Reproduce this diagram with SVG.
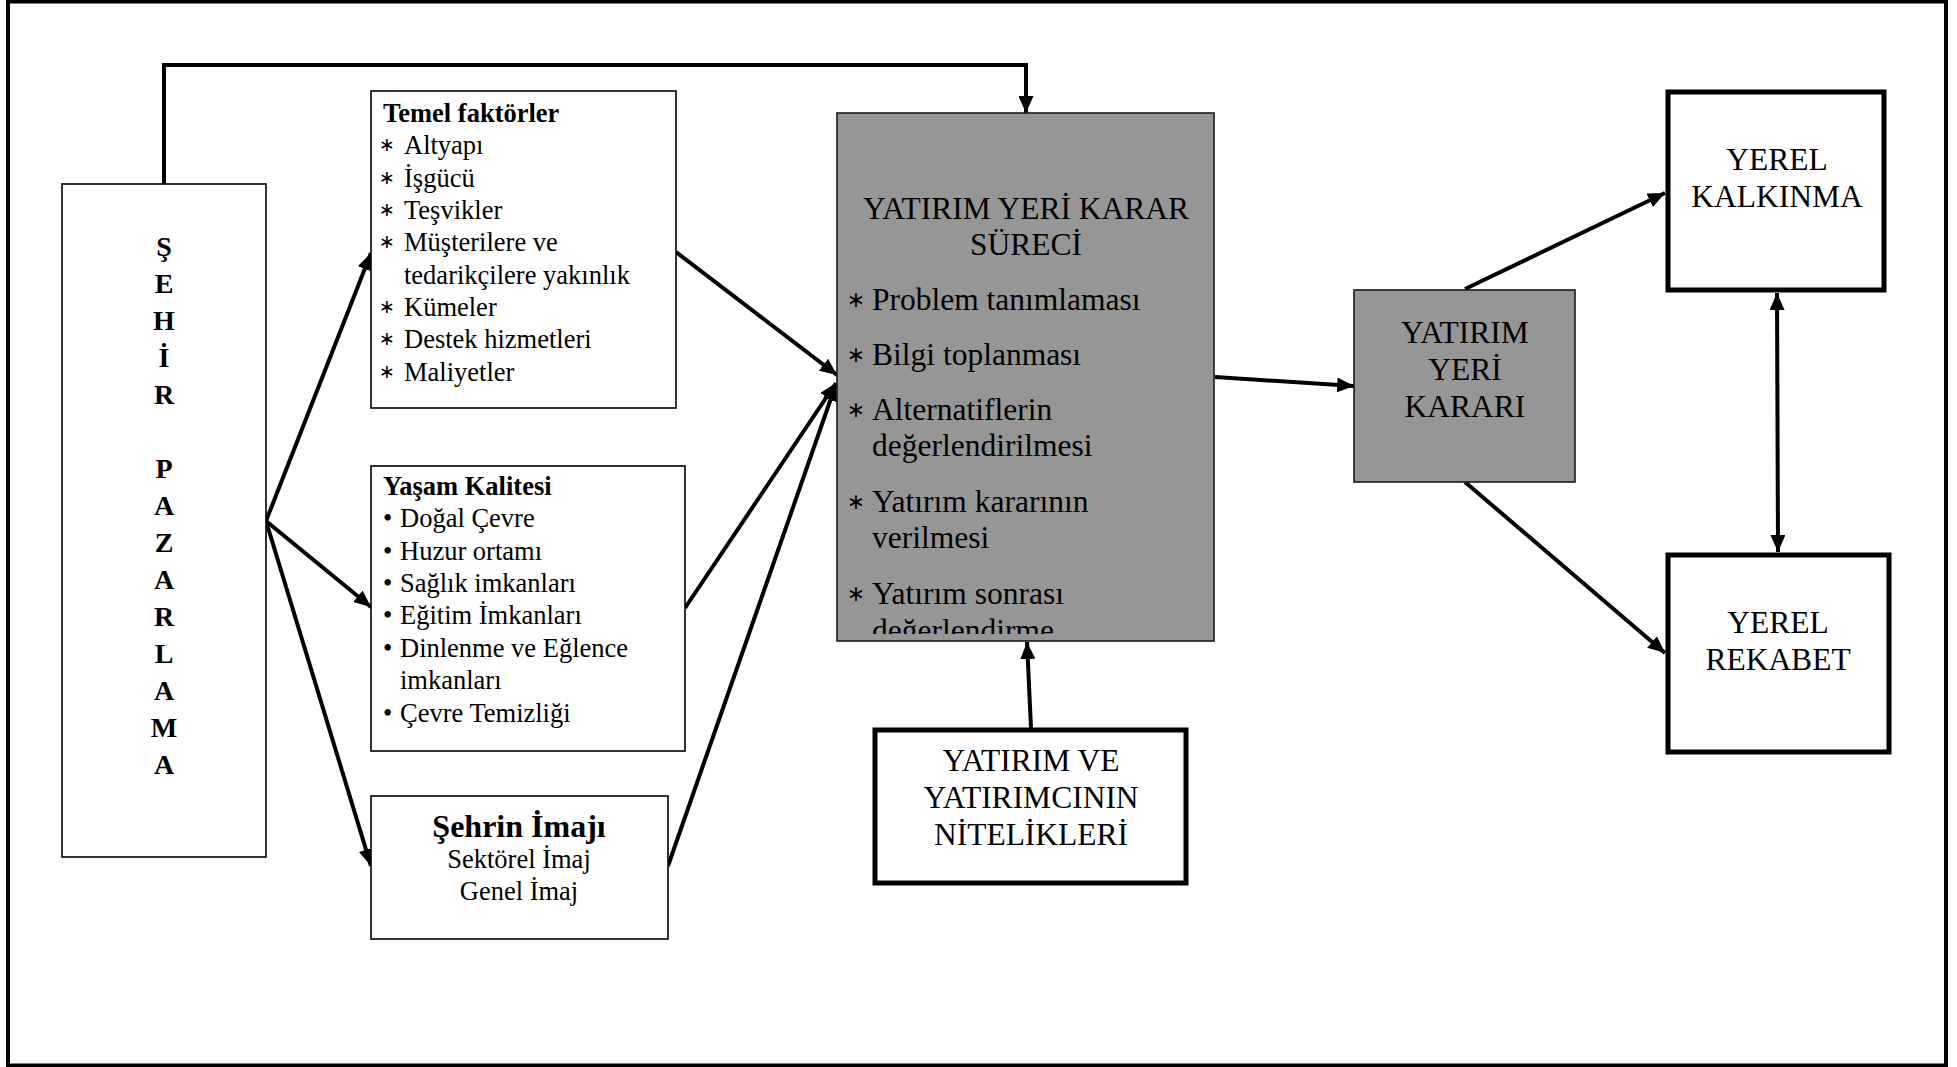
<svg xmlns="http://www.w3.org/2000/svg" width="1957" height="1067" viewBox="0 0 1957 1067">
  <style>
    text { font-family: "Liberation Serif", "Times New Roman", serif; fill: #000; }
    .box { fill: #fff; stroke: #000; stroke-width: 1.6; }
    .gray { fill: #969696; stroke: #1a1a1a; stroke-width: 1.6; }
    .thick { fill: #fff; stroke: #000; stroke-width: 5; }
    .conn { fill: none; stroke: #000; stroke-width: 4; }
    .vert { font-size: 28px; font-weight: bold; text-anchor: middle; }
    .item { font-size: 26.5px; }
    .head { font-size: 26.5px; font-weight: bold; }
    .big { font-size: 31.5px; }
    .mid { text-anchor: middle; }
    text.ast { font-family: "DejaVu Sans", sans-serif; font-size: 19px; text-anchor: middle; transform: translateY(-3px); }
    text.ast2 { font-family: "DejaVu Sans", sans-serif; font-size: 22px; text-anchor: middle; transform: translateY(-3px); }
  </style>
  <defs>
    <marker id="ah" markerUnits="userSpaceOnUse" viewBox="0 0 17 15" markerWidth="17" markerHeight="15" refX="17" refY="7.5" orient="auto-start-reverse">
      <path d="M0,0 L17,7.5 L0,15 z" fill="#000"/>
    </marker>
    <clipPath id="procClip">
      <rect x="837" y="113" width="377" height="521"/>
    </clipPath>
  </defs>

  <!-- outer frame -->
  <rect x="8" y="1.5" width="1938" height="1064" fill="#fff" stroke="#000" stroke-width="4"/>

  <!-- connectors -->
  <g id="connectors" class="conn">
    <polyline points="164,184 164,65 1026,65 1026,113" marker-end="url(#ah)"/>
    <line x1="266" y1="521" x2="371" y2="253" marker-end="url(#ah)"/>
    <line x1="266" y1="521" x2="371" y2="607" marker-end="url(#ah)"/>
    <line x1="266" y1="521" x2="371" y2="866" marker-end="url(#ah)"/>
    <line x1="676" y1="252" x2="837" y2="375" marker-end="url(#ah)"/>
    <line x1="685" y1="608" x2="836" y2="383" marker-end="url(#ah)"/>
    <line x1="668" y1="866" x2="836" y2="384" marker-end="url(#ah)"/>
    <line x1="1031" y1="728" x2="1027" y2="642" marker-end="url(#ah)"/>
    <line x1="1215" y1="377" x2="1354" y2="386" marker-end="url(#ah)"/>
    <line x1="1465" y1="289" x2="1665" y2="193" marker-end="url(#ah)"/>
    <line x1="1465" y1="482" x2="1665" y2="653" marker-end="url(#ah)"/>
    <line x1="1777" y1="293" x2="1778" y2="552" marker-start="url(#ah)" marker-end="url(#ah)"/>
  </g>

  <!-- city marketing column -->
  <g id="sehir-pazarlama">
    <rect class="box" x="62" y="184" width="204" height="673"/>
    <text class="vert" x="164" y="256">Ş</text>
    <text class="vert" x="164" y="293">E</text>
    <text class="vert" x="164" y="330">H</text>
    <text class="vert" x="164" y="367">İ</text>
    <text class="vert" x="164" y="404">R</text>
    <text class="vert" x="164" y="478">P</text>
    <text class="vert" x="164" y="515">A</text>
    <text class="vert" x="164" y="552">Z</text>
    <text class="vert" x="164" y="589">A</text>
    <text class="vert" x="164" y="626">R</text>
    <text class="vert" x="164" y="663">L</text>
    <text class="vert" x="164" y="700">A</text>
    <text class="vert" x="164" y="737">M</text>
    <text class="vert" x="164" y="774">A</text>
  </g>

  <!-- basic factors -->
  <g id="temel-faktorler">
    <rect class="box" x="371" y="91" width="305" height="317"/>
    <text class="head" x="383" y="122">Temel faktörler</text>
    <g class="item">
      <text class="ast" x="387" y="154">∗</text><text x="404" y="154">Altyapı</text>
      <text class="ast" x="387" y="187">∗</text><text x="404" y="187">İşgücü</text>
      <text class="ast" x="387" y="219">∗</text><text x="404" y="219">Teşvikler</text>
      <text class="ast" x="387" y="251">∗</text><text x="404" y="251">Müşterilere ve</text>
      <text x="404" y="284">tedarikçilere yakınlık</text>
      <text class="ast" x="387" y="316">∗</text><text x="404" y="316">Kümeler</text>
      <text class="ast" x="387" y="348">∗</text><text x="404" y="348">Destek hizmetleri</text>
      <text class="ast" x="387" y="381">∗</text><text x="404" y="381">Maliyetler</text>
    </g>
  </g>

  <!-- quality of life -->
  <g id="yasam-kalitesi">
    <rect class="box" x="371" y="466" width="314" height="285"/>
    <text class="head" x="383" y="495">Yaşam Kalitesi</text>
    <g class="item">
      <text x="383" y="527">•</text><text x="400" y="527">Doğal Çevre</text>
      <text x="383" y="560">•</text><text x="400" y="560">Huzur ortamı</text>
      <text x="383" y="592">•</text><text x="400" y="592">Sağlık imkanları</text>
      <text x="383" y="624">•</text><text x="400" y="624">Eğitim İmkanları</text>
      <text x="383" y="657">•</text><text x="400" y="657">Dinlenme ve Eğlence</text>
      <text x="400" y="689">imkanları</text>
      <text x="383" y="722">•</text><text x="400" y="722">Çevre Temizliği</text>
    </g>
  </g>

  <!-- city image -->
  <g id="sehrin-imaji">
    <rect class="box" x="371" y="796" width="297" height="143"/>
    <text class="mid" x="519" y="837" font-size="32" font-weight="bold">Şehrin İmajı</text>
    <text class="item mid" x="519" y="868">Sektörel İmaj</text>
    <text class="item mid" x="519" y="900">Genel İmaj</text>
  </g>

  <!-- decision process -->
  <g id="karar-sureci">
    <rect class="gray" x="837" y="113" width="377" height="528"/>
    <text class="big mid" x="1026" y="219">YATIRIM YERİ KARAR</text>
    <text class="big mid" x="1026" y="255">SÜRECİ</text>
    <g class="big" clip-path="url(#procClip)">
      <text class="ast2" x="856" y="310">∗</text><text x="872" y="310">Problem tanımlaması</text>
      <text class="ast2" x="856" y="365">∗</text><text x="872" y="365">Bilgi toplanması</text>
      <text class="ast2" x="856" y="420">∗</text><text x="872" y="420">Alternatiflerin</text>
      <text x="872" y="456">değerlendirilmesi</text>
      <text class="ast2" x="856" y="512">∗</text><text x="872" y="512">Yatırım kararının</text>
      <text x="872" y="548">verilmesi</text>
      <text class="ast2" x="856" y="604">∗</text><text x="872" y="604">Yatırım sonrası</text>
      <text x="872" y="641">değerlendirme</text>
    </g>
  </g>

  <!-- investor characteristics -->
  <g id="yatirimci-nitelikleri">
    <rect class="thick" x="875" y="730" width="311" height="153"/>
    <text class="big mid" x="1031" y="771">YATIRIM VE</text>
    <text class="big mid" x="1031" y="808">YATIRIMCININ</text>
    <text class="big mid" x="1031" y="845">NİTELİKLERİ</text>
  </g>

  <!-- location decision -->
  <g id="yatirim-yeri-karari">
    <rect class="gray" x="1354" y="290" width="221" height="192"/>
    <text class="big mid" x="1465" y="343">YATIRIM</text>
    <text class="big mid" x="1465" y="380">YERİ</text>
    <text class="big mid" x="1465" y="417">KARARI</text>
  </g>

  <!-- local development -->
  <g id="yerel-kalkinma">
    <rect class="thick" x="1668" y="92" width="216" height="198"/>
    <text class="big mid" x="1777" y="170">YEREL</text>
    <text class="big mid" x="1777" y="207">KALKINMA</text>
  </g>

  <!-- local competition -->
  <g id="yerel-rekabet">
    <rect class="thick" x="1668" y="555" width="221" height="197"/>
    <text class="big mid" x="1778" y="633">YEREL</text>
    <text class="big mid" x="1778" y="670">REKABET</text>
  </g>
</svg>
